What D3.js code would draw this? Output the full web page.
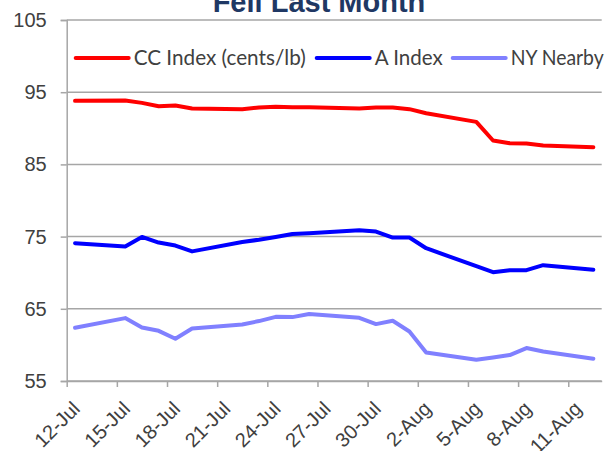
<!DOCTYPE html>
<html><head><meta charset="utf-8">
<script src="https://cdn.jsdelivr.net/npm/d3@7"></script>
<style>
html,body{margin:0;padding:0;background:#fff;}
svg{display:block;}
</style></head>
<body>
<svg id="chart" width="608" height="451"></svg>
<script>
// ---- data ----
const dates = ["2013-07-12","2013-07-15","2013-07-16","2013-07-17","2013-07-18","2013-07-19",
  "2013-07-22","2013-07-23","2013-07-24","2013-07-25","2013-07-26",
  "2013-07-29","2013-07-30","2013-07-31","2013-08-01","2013-08-02",
  "2013-08-05","2013-08-06","2013-08-07","2013-08-08","2013-08-09","2013-08-12"];
const ccIndex = [93.80,93.85,93.52,93.06,93.16,92.74,92.65,92.88,92.97,92.92,92.92,
  92.74,92.88,92.88,92.65,92.09,90.89,88.31,87.94,87.90,87.62,87.39];
const aIndex = [74.09,73.62,74.95,74.17,73.76,72.95,74.25,74.57,74.95,75.37,75.46,
  75.88,75.70,74.87,74.87,73.39,70.90,70.07,70.35,70.35,71.04,70.40];
const nyNearby = [62.37,63.71,62.41,61.95,60.85,62.28,62.83,63.30,63.89,63.85,64.27,
  63.75,62.88,63.34,61.86,58.95,57.94,58.26,58.59,59.56,59.09,58.08];
const seriesNames = ["CC Index (cents/lb)","A Index","NY Nearby"];
const seriesColors = ["#ff0000","#0000ff","#8080ff"];
const yTicks = [55,65,75,85,95,105];
const titleText = "Fell Last Month";
const axisStart = "2013-07-12", axisEnd = "2013-08-13";

// ---- layout ----
const svg = d3.select("#chart");
const mLeft = 66.7, mRight = 601.7, mTop = 20, mBottom = 381;
const parse = d3.utcParse("%Y-%m-%d");
const x = d3.scaleUtc().domain([parse(axisStart), parse(axisEnd)]).range([mLeft, mRight]);
const y = d3.scaleLinear().domain([55,105]).range([mBottom, mTop]);
const mid = d => d3.utcHour.offset(parse(d), 12);

// title (mostly cropped at top, as in the reference)
svg.append("text").attr("x", 319).attr("y", 12).attr("text-anchor","middle")
  .attr("font-family","'Liberation Sans', Arial, sans-serif").attr("font-weight","bold")
  .attr("font-size", 29).attr("fill","#1f3864").text(titleText);

// gridlines
svg.append("g").selectAll("line").data(yTicks).join("line")
  .attr("x1", mLeft).attr("x2", mRight)
  .attr("y1", d => y(d)).attr("y2", d => y(d))
  .attr("stroke","#a6a6a6").attr("stroke-width",1.5);

// y axis
const gy = svg.append("g").attr("transform",`translate(${mLeft},0)`)
  .call(d3.axisLeft(y).tickValues(yTicks).tickSize(6).tickPadding(14).tickFormat(d3.format("d")));
gy.select(".domain").attr("stroke","#a6a6a6").attr("stroke-width",1.5);
gy.selectAll(".tick line").attr("stroke","#a6a6a6").attr("stroke-width",1.5);
gy.selectAll(".tick text").attr("font-family","'Liberation Sans', Arial, sans-serif")
  .attr("font-size",20).attr("fill","#404040");

// x axis
const xTickVals = d3.utcDay.range(parse(axisStart), parse(axisEnd), 3);
const gx = svg.append("g").attr("transform",`translate(0,${mBottom})`)
  .call(d3.axisBottom(x).tickValues(xTickVals).tickSize(6).tickSizeOuter(0)
    .tickFormat(d3.utcFormat("%-d-%b")));
gx.select(".domain").attr("stroke","#a6a6a6").attr("stroke-width",1.5);
gx.selectAll(".tick line").attr("stroke","#a6a6a6").attr("stroke-width",1.5);
gx.selectAll(".tick text").attr("font-family","'Liberation Sans', Arial, sans-serif")
  .attr("font-size",20).attr("fill","#404040")
  .attr("text-anchor","end").attr("dy",null).attr("y",null)
  .attr("transform","translate(14,29) rotate(-45)");

// lines
const allSeries = [ccIndex, aIndex, nyNearby];
const line = d3.line().x(d => x(mid(d.date))).y(d => y(d.v));
allSeries.forEach((vals, i) => {
  const pts = dates.map((d, j) => ({date: d, v: vals[j]}));
  svg.append("path").datum(pts).attr("d", line).attr("fill","none")
    .attr("stroke", seriesColors[i]).attr("stroke-width",4)
    .attr("stroke-linejoin","round").attr("stroke-linecap","round");
});

// legend
const legX = [75.7, 316.7, 452.7];
const legW = [172, 68, 93];
const leg = svg.append("g");
seriesNames.forEach((name, i) => {
  leg.append("line").attr("x1", legX[i]).attr("x2", legX[i] + 53)
    .attr("y1", 58).attr("y2", 58).attr("stroke", seriesColors[i])
    .attr("stroke-width",4).attr("stroke-linecap","round");
  leg.append("text").attr("x", legX[i] + 58).attr("y", 58).attr("dy","0.35em")
    .attr("font-family","Lato, sans-serif").attr("font-size",21).attr("fill","#404040")
    .attr("textLength", legW[i]).attr("lengthAdjust","spacingAndGlyphs")
    .text(name);
});
</script>
</body></html>
